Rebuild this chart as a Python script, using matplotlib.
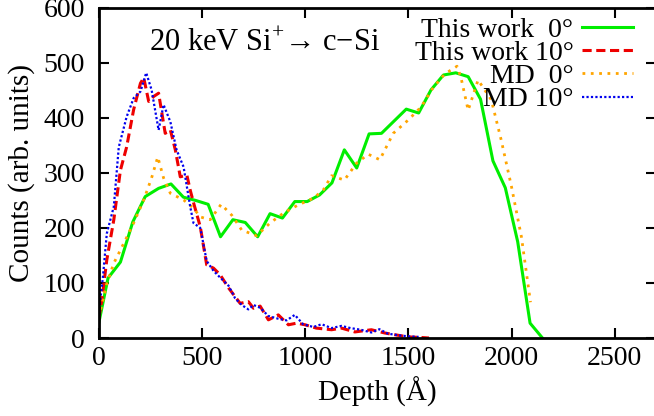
import matplotlib
matplotlib.use("Agg")
import matplotlib.pyplot as plt

plt.rcParams['font.family'] = ['Liberation Serif', 'DejaVu Serif']
plt.rcParams['mathtext.fontset'] = 'custom'
plt.rcParams['mathtext.rm'] = 'Liberation Serif'
plt.rcParams['font.size'] = 20

# This work 0 deg
tw0_x = [0, 45, 105, 165, 225, 290, 350, 410, 470, 530, 590, 650, 710, 770, 830, 890,
         950, 1010, 1070, 1130, 1190, 1250, 1310, 1370, 1430, 1490, 1550, 1610, 1670,
         1730, 1790, 1850, 1910, 1970, 2030, 2090, 2150]
tw0_y = [27, 109, 138, 211, 257, 272, 280, 256, 250, 243, 184, 215, 210, 184, 226, 218,
         248, 248, 260, 282, 342, 309, 371, 372, 394, 416, 409, 451, 478,
         482, 475, 434, 322, 273, 175, 27, 0]

# This work 10 deg
tw10_x = [0, 15, 39, 73, 105, 135, 169, 202, 218, 242, 266, 290, 322, 347, 371, 395, 427,
          443, 460, 492, 523, 556, 588, 629, 661, 685, 725, 750, 782, 822, 870, 919, 959,
          1000, 1054, 1128, 1176, 1241, 1321, 1387, 1450, 1500, 1560, 1600]
tw10_y = [35, 69, 142, 215, 305, 347, 415, 463, 473, 430, 439, 445, 372, 378, 342, 293, 296,
          269, 245, 202, 133, 127, 115, 91, 75, 63, 66, 54, 58, 33, 42, 24, 27,
          24, 18, 15, 18, 11, 15, 9, 5, 2, 1, 0]

# MD 0 deg
md0_x = [0, 40, 73, 129, 169, 218, 256, 286, 314, 347, 411, 459, 492, 540, 593, 645, 693,
         765, 830, 895, 967, 1040, 1088, 1128, 1190, 1250, 1306, 1362, 1427, 1499, 1562,
         1620, 1677, 1736, 1756, 1790, 1838, 1902, 1950, 2000, 2048, 2092]
md0_y = [37, 100, 136, 178, 209, 251, 291, 329, 291, 263, 251, 236, 220, 215, 243, 223, 196,
         186, 209, 227, 242, 254, 269, 295, 287, 318, 334, 324, 372, 396, 420,
         455, 480, 494, 472, 414, 469, 433, 360, 275, 184, 65]

# MD 10 deg
md10_x = [0, 20, 39, 73, 97, 135, 169, 202, 230, 256, 290, 314, 347, 377, 411, 443, 459,
          492, 523, 556, 588, 629, 661, 693, 725, 750, 782, 822, 870, 910, 950, 990, 1040,
          1080, 1128, 1176, 1220, 1270, 1321, 1360, 1400, 1450, 1500, 1550]
md10_y = [45, 110, 190, 239, 347, 402, 436, 448, 482, 451, 378, 424, 393, 342, 311, 239, 209,
          200, 140, 122, 110, 95, 72, 60, 52, 60, 55, 40, 35, 32, 42, 25, 20,
          25, 18, 22, 18, 15, 10, 16, 8, 5, 3, 2]

labels = ['This work  0°', 'This work 10°', 'MD  0°', 'MD 10°']
x_ticks = [0, 500, 1000, 1500, 2000, 2500]
y_ticks = [0, 100, 200, 300, 400, 500, 600]

fig = plt.figure(figsize=(6.54, 4.16), dpi=100)
ax = fig.add_axes([0.151, 0.1875, 0.852, 0.7935])

ax.plot(tw0_x, tw0_y, color='#00ee00', lw=2.2, ls='-', label=labels[0])
ax.plot(tw10_x, tw10_y, color='#ee0000', lw=2.2, ls=(0, (3, 1.5)), label=labels[1])
ax.plot(md0_x, md0_y, color='#ffa500', lw=2.0, ls=(0, (1, 2)), label=labels[2])
ax.plot(md10_x, md10_y, color='#0000ee', lw=1.6, ls=(0, (1, 1)), label=labels[3])

ax.set_xlim(0, 2700)
ax.set_ylim(0, 600)
ax.set_xticks(x_ticks)
ax.set_yticks(y_ticks)
ax.tick_params(direction='in', length=7, width=1.5, top=True, right=True,
               labelsize=20)
ax.tick_params(axis='y', pad=10)
ax.tick_params(axis='x', pad=6)
for s in ax.spines.values():
    s.set_linewidth(2)

ax.set_xlabel('Depth (Å)', fontsize=21, labelpad=4)
ax.set_ylabel('Counts (arb. units)', fontsize=21, labelpad=6)

ax.text(0.09, 0.87, '20 keV Si$^{+}$→ c−Si', transform=ax.transAxes,
        fontsize=22, ha='left', va='baseline')

leg = ax.legend(loc='upper right', bbox_to_anchor=(0.984, 1.014), markerfirst=False,
                frameon=False, fontsize=20, handlelength=1.83, handletextpad=0.32,
                labelspacing=-0.08, borderaxespad=0.1)

fig.savefig('out.png', dpi=100)
